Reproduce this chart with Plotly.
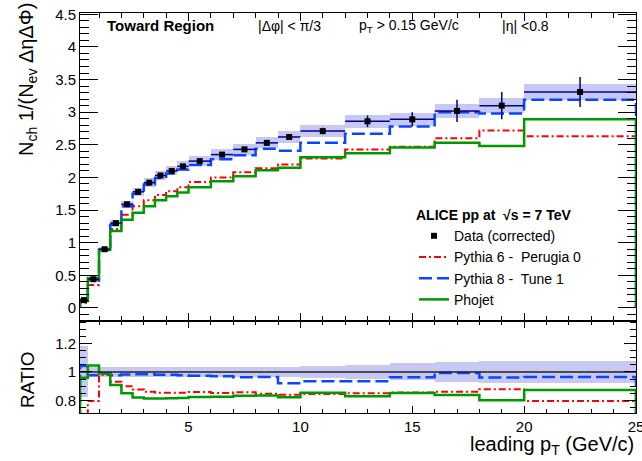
import plotly.graph_objects as go

# Leading-track pT bin edges (GeV/c)
edges = [0.15, 0.5, 1.0, 1.5, 2.0, 2.5, 3.0, 3.5, 4.0, 4.5, 5.0,
         6.0, 7.0, 8.0, 9.0, 10.0, 12.0, 14.0, 16.0, 18.0, 20.0, 25.0]

# Corrected data: number density in the toward region
data = [0.12, 0.44, 0.90, 1.30, 1.59, 1.78, 1.92, 2.03, 2.10, 2.17, 2.25,
        2.35, 2.43, 2.53, 2.62, 2.71, 2.86, 2.89, 3.02, 3.10, 3.31]
stat = [0.005, 0.005, 0.005, 0.008, 0.01, 0.01, 0.012, 0.015, 0.015, 0.02, 0.02,
        0.025, 0.03, 0.03, 0.04, 0.05, 0.09, 0.11, 0.17, 0.21, 0.23]
syst = [0.02, 0.02, 0.03, 0.045, 0.055, 0.06, 0.065, 0.07, 0.07, 0.075, 0.08,
        0.08, 0.085, 0.085, 0.09, 0.09, 0.10, 0.10, 0.11, 0.11, 0.12]
# Total relative uncertainty shown around unity in the ratio panel
ratio_unc = [0.18, 0.035, 0.035, 0.035, 0.035, 0.035, 0.035, 0.035, 0.035, 0.035, 0.035,
             0.035, 0.035, 0.035, 0.035, 0.045, 0.05, 0.06, 0.07, 0.075, 0.075]

# Monte Carlo predictions
pythia6 = [0.08, 0.35, 0.88, 1.21, 1.43, 1.56, 1.65, 1.73, 1.79, 1.85, 1.93,
           2.00, 2.08, 2.14, 2.20, 2.29, 2.43, 2.47, 2.60, 2.72, 2.63]
pythia8 = [0.125, 0.43, 0.89, 1.27, 1.56, 1.75, 1.89, 1.99, 2.06, 2.12, 2.19,
           2.28, 2.34, 2.44, 2.41, 2.53, 2.67, 2.78, 3.00, 2.98, 3.19]
phojet = [0.115, 0.46, 0.89, 1.18, 1.35, 1.46, 1.56, 1.65, 1.71, 1.77, 1.85,
          1.94, 2.02, 2.11, 2.15, 2.31, 2.37, 2.46, 2.53, 2.48, 2.89]

FONT = "Liberation Sans, Arial, Helvetica, sans-serif"
BAND = "#c8c8f4"
NAVY = "#000090"

centers = [(a + b) / 2 for a, b in zip(edges[:-1], edges[1:])]
widths = [b - a for a, b in zip(edges[:-1], edges[1:])]
halfw = [w / 2 for w in widths]


def step(vals):
    """Histogram outline: rises from zero at the first edge, drops to zero at the last."""
    xs = [edges[0]] + edges[:-1] + [edges[-1], edges[-1]]
    ys = [0] + list(vals) + [vals[-1], 0]
    return xs, ys


models = [
    ("Pythia 6 -  Perugia 0", pythia6, "#ff0000", "7px,3px,2px,3px", 2.0, 2),
    ("Pythia 8 -  Tune 1", pythia8, "#0a45ff", "13px,5px", 2.5, 3),
    ("Phojet", phojet, "#009a00", "solid", 2.5, 4),
]

fig = go.Figure()

# Systematic band, upper panel
fig.add_trace(go.Bar(
    x=centers, y=[2 * s for s in syst], base=[d - s for d, s in zip(data, syst)],
    width=widths, marker=dict(color=BAND, line=dict(width=0)),
    showlegend=False, hoverinfo="skip", xaxis="x", yaxis="y"))

# Uncertainty band around unity, ratio panel
fig.add_trace(go.Bar(
    x=centers, y=[2 * u for u in ratio_unc], base=[1 - u for u in ratio_unc],
    width=widths, marker=dict(color=BAND, line=dict(width=0)),
    showlegend=False, hoverinfo="skip", xaxis="x2", yaxis="y2"))

# Model curves and their ratios to data
for name, vals, color, dash, lw, rank in models:
    xs, ys = step(vals)
    fig.add_trace(go.Scatter(
        x=xs, y=ys, mode="lines", line=dict(color=color, dash=dash, width=lw, shape="hv"),
        name=name, legendrank=rank, xaxis="x", yaxis="y"))
    ratio = [v / d for v, d in zip(vals, data)]
    rx, ry = step(ratio)
    fig.add_trace(go.Scatter(
        x=rx, y=ry, mode="lines", line=dict(color=color, dash=dash, width=lw, shape="hv"),
        showlegend=False, xaxis="x2", yaxis="y2"))

# Unity line in the ratio panel
fig.add_trace(go.Scatter(
    x=[edges[0], edges[-1]], y=[1, 1], mode="lines",
    line=dict(color="#222222", width=1.5), showlegend=False, xaxis="x2", yaxis="y2"))

# Data points with statistical errors and bin widths
fig.add_trace(go.Scatter(
    x=centers, y=data, mode="markers", name="Data (corrected)", legendrank=1,
    marker=dict(symbol="square", size=6, color="black"),
    error_x=dict(type="data", array=halfw, width=0, color=NAVY, thickness=1.5),
    error_y=dict(type="data", array=stat, width=0, color=NAVY, thickness=1.5),
    xaxis="x", yaxis="y"))

# Pixel geometry of the plotting area
L, R, T, B = 80, 636, 13, 413
W, H = 642, 461


def px(x):
    return (x - L) / (R - L)


def py(y):
    return (B - y) / (B - T)


axis_common = dict(showline=True, linecolor="black", linewidth=1, mirror="ticks",
                   ticks="inside", tickcolor="black", showgrid=False, zeroline=False,
                   automargin=False,
                   tickfont=dict(family=FONT, size=15, color="black"))

split = (B - 321) / (B - T)

fig.update_layout(
    width=W, height=H,
    margin=dict(l=L, r=W - R, t=T, b=H - B, autoexpand=False),
    paper_bgcolor="white", plot_bgcolor="white",
    barmode="overlay", bargap=0,
    font=dict(family=FONT, size=14, color="black"),
    xaxis=dict(domain=[0, 1], anchor="y", range=[0.15, 25], tick0=0, dtick=5,
               ticklen=8, showticklabels=False, matches="x2",
               minor=dict(dtick=1, ticklen=5, ticks="inside", tickcolor="black"),
               **axis_common),
    yaxis=dict(domain=[split, 1], anchor="x", range=[-0.2, 4.52], tick0=0, dtick=0.5,
               ticklen=18, minor=dict(dtick=0.1, ticklen=9, ticks="inside", tickcolor="black"),
               **axis_common),
    xaxis2=dict(domain=[0, 1], anchor="y2", range=[0.15, 25], tick0=0, dtick=5,
                ticklen=7, ticklabeloverflow="allow",
                minor=dict(dtick=1, ticklen=4, ticks="inside", tickcolor="black"),
                **axis_common),
    yaxis2=dict(domain=[0, split], anchor="x2", range=[0.71, 1.36], tick0=0, dtick=0.2,
                ticklen=12, minor=dict(dtick=0.05, ticklen=6, ticks="inside", tickcolor="black"),
                **axis_common),
    legend=dict(x=px(414), y=py(202), xanchor="left", yanchor="top",
                bgcolor="rgba(0,0,0,0)", borderwidth=0,
                font=dict(family=FONT, size=14, color="black"),
                title=dict(text="<b>ALICE pp at  \u221as = 7 TeV</b>",
                           font=dict(family=FONT, size=14, color="black")),
                tracegroupgap=0, itemwidth=30),
    showlegend=True,
)

annotations = [
    dict(text="<b>Toward Region</b>", x=px(105), y=py(26), size=15),
    dict(text="|\u0394\u03c6| < \u03c0/3", x=px(256), y=py(26), size=14),
    dict(text="p<sub>T</sub> > 0.15 GeV/c", x=px(357), y=py(26), size=14),
    dict(text="|\u03b7| <0.8", x=px(500), y=py(26), size=14),
]
for a in annotations:
    fig.add_annotation(text=a["text"], x=a["x"], y=a["y"], xref="paper", yref="paper",
                       xanchor="left", yanchor="middle", showarrow=False,
                       font=dict(family=FONT, size=a["size"], color="black"))

# Axis titles
fig.add_annotation(text="N<sub>ch</sub> 1/(N<sub>ev</sub> \u0394\u03b7\u0394\u03a6)",
                   x=px(27), y=py(80), xref="paper", yref="paper", textangle=-90,
                   xanchor="center", yanchor="middle", showarrow=False,
                   font=dict(family=FONT, size=20, color="black"))
fig.add_annotation(text="RATIO", x=px(27), y=py(380), xref="paper", yref="paper",
                   textangle=-90, xanchor="center", yanchor="middle", showarrow=False,
                   font=dict(family=FONT, size=19, color="black"))
fig.add_annotation(text="leading p<sub>T</sub> (GeV/c)", x=px(636), y=py(445),
                   xref="paper", yref="paper", xanchor="right", yanchor="middle",
                   showarrow=False, font=dict(family=FONT, size=20, color="black"))

fig.write_html("out.html")
